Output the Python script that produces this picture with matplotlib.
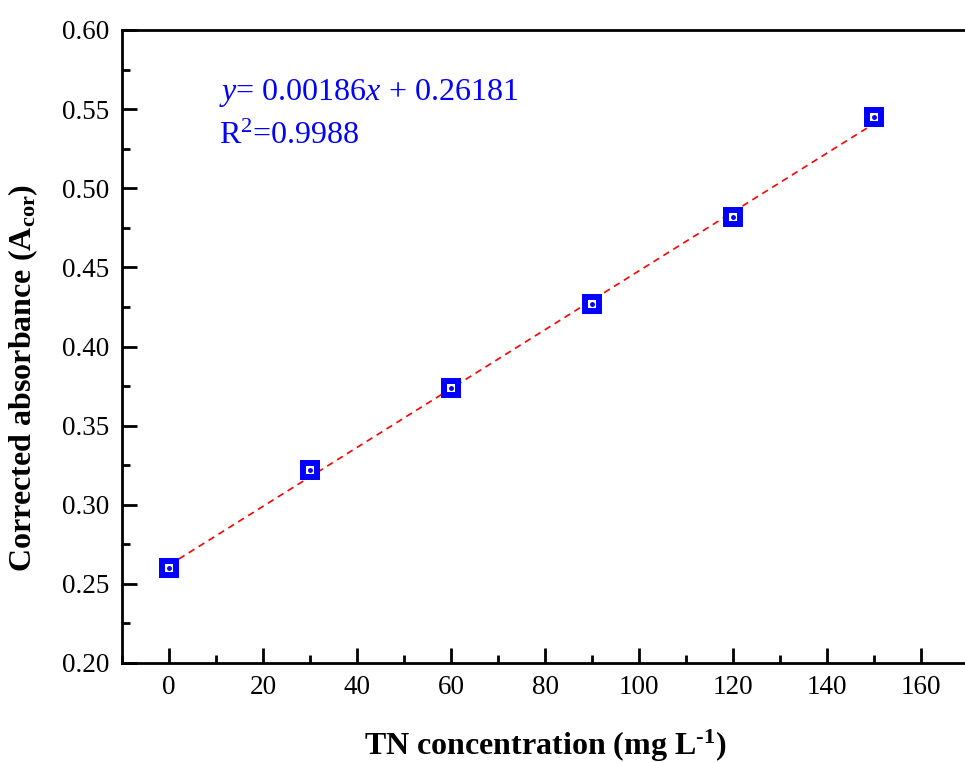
import matplotlib
matplotlib.use("Agg")
import matplotlib.pyplot as plt
from matplotlib.ticker import MultipleLocator

plt.rcParams['font.family'] = ['Liberation Serif', 'DejaVu Serif']
plt.rcParams['mathtext.fontset'] = 'custom'
plt.rcParams['mathtext.rm'] = 'Liberation Serif'
plt.rcParams['mathtext.it'] = 'Liberation Serif:italic'
plt.rcParams['mathtext.bf'] = 'Liberation Serif:bold'

# calibration data
tn_conc = [0, 30, 60, 90, 120, 150]
absorbance = [0.260, 0.322, 0.374, 0.427, 0.482, 0.545]
slope = 0.00186
intercept = 0.26181
r2 = 0.9988

fig = plt.figure(figsize=(9.65, 7.63), dpi=100)
ax = fig.add_axes([122 / 965, 1 - 663 / 763, (968 - 122) / 965, (663 - 30) / 763])

fit_x = [tn_conc[0], tn_conc[-1]]
fit_y = [slope * v + intercept for v in fit_x]
ax.plot(fit_x, fit_y, color='red', ls=(0, (4, 3)), lw=1.2, zorder=2)
ax.plot(tn_conc, absorbance, ls='none', marker='s', ms=9.5, mfc='white',
        mec='blue', mew=4.3, zorder=3)
ax.plot(tn_conc, absorbance, ls='none', marker='o', ms=2.5, color='blue', zorder=4)

ax.set_xlim(-10, 170)
ax.set_ylim(0.20, 0.60)
ax.xaxis.set_major_locator(MultipleLocator(20))
ax.xaxis.set_minor_locator(MultipleLocator(10))
ax.yaxis.set_major_locator(MultipleLocator(0.05))
ax.yaxis.set_minor_locator(MultipleLocator(0.025))
ax.yaxis.set_major_formatter(plt.FuncFormatter(lambda v, p: f"{v:.2f}"))

ax.tick_params(which='major', direction='in', length=11, width=2, labelsize=19.5,
               top=False, right=False, pad=9)
ax.tick_params(which='minor', direction='in', length=6, width=2, top=False, right=False)
for s in ax.spines.values():
    s.set_linewidth(2)

ax.set_xlabel(r'TN concentration (mg L$^{\mathbf{\text{-}1}}$)', fontsize=23,
              fontweight='bold', labelpad=20)
ax.set_ylabel(r'Corrected absorbance (A$_{\mathbf{cor}}$)', fontsize=23,
              fontweight='bold')
ax.yaxis.set_label_coords(-0.097, 0.45)

ax.text(0.115, 0.9, rf'$\mathit{{y}}$= {slope:.5f}$\mathit{{x}}$ + {intercept:.5f}',
        transform=ax.transAxes, color='blue', fontsize=23, va='center')
ax.text(0.115, 0.832, rf'R$^{{2}}$={r2}', transform=ax.transAxes,
        color='blue', fontsize=23, va='center')

fig.savefig('out.png', dpi=100)
